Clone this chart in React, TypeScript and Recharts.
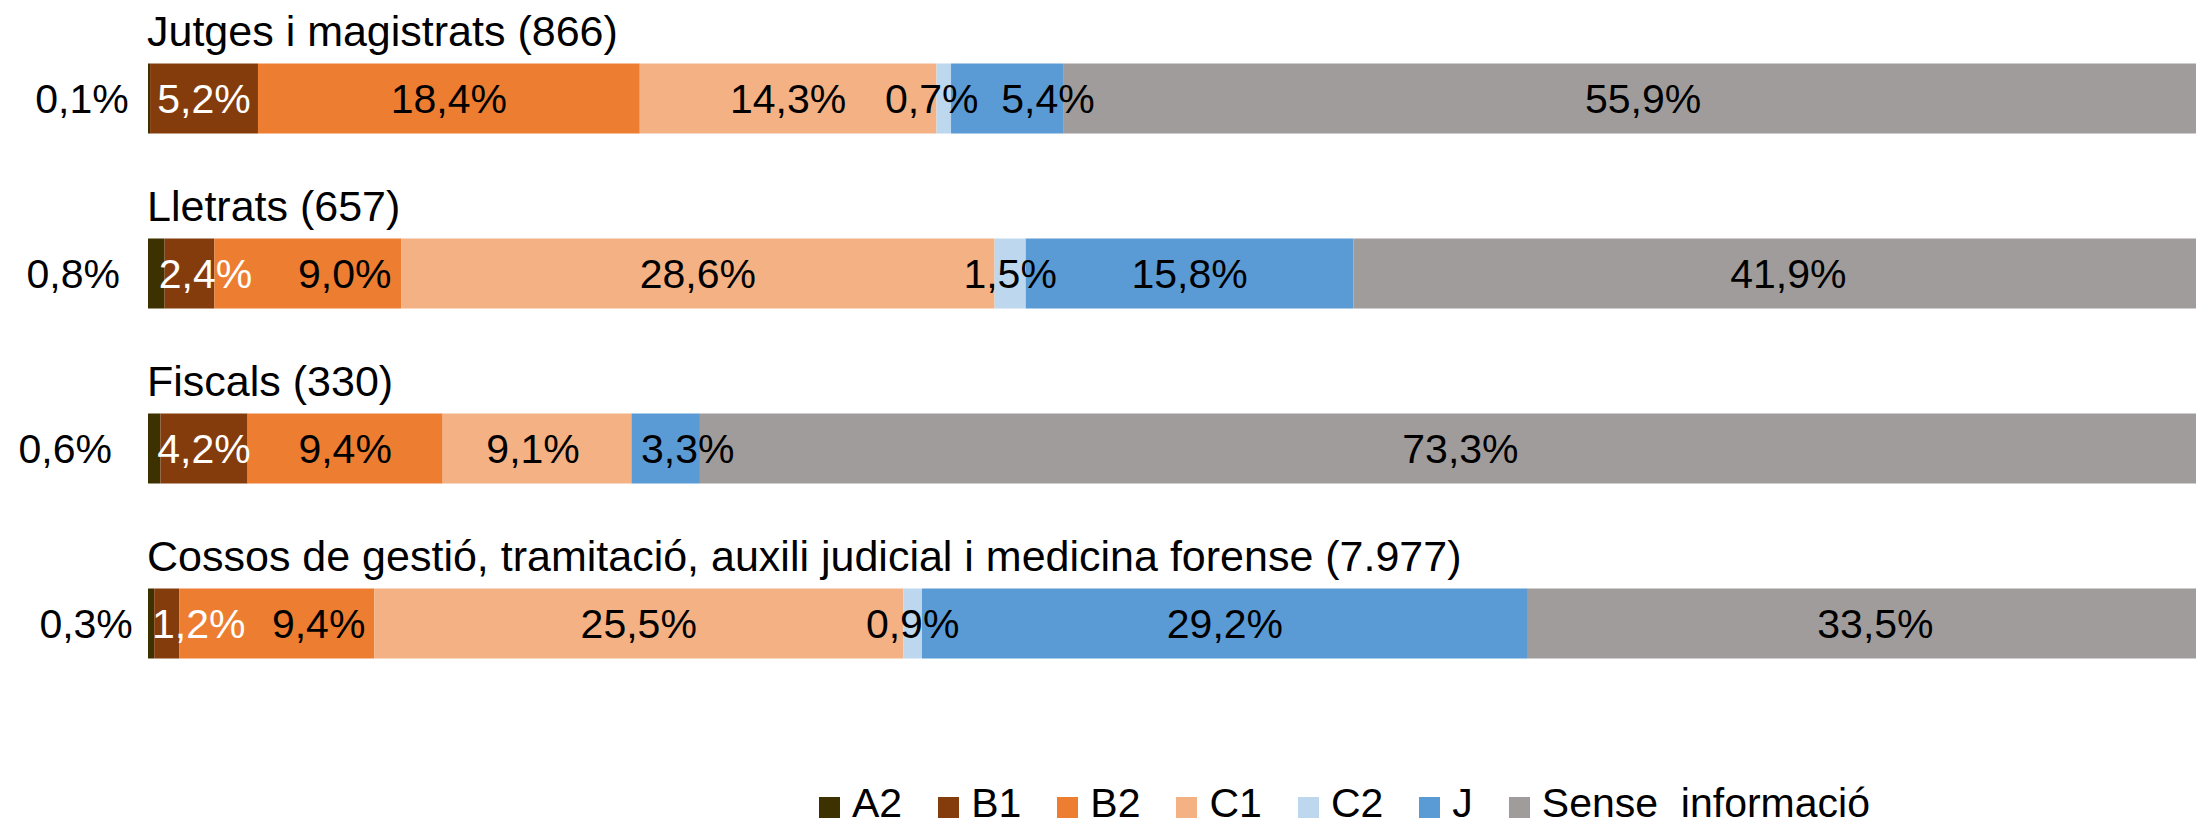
import { BarChart, Bar, XAxis, YAxis, LabelList } from "recharts";

const categories = [
  "Jutges i magistrats (866)",
  "Lletrats (657)",
  "Fiscals (330)",
  "Cossos de gestió, tramitació, auxili judicial i medicina forense (7.977)",
];

const seriesNames = ["A2", "B1", "B2", "C1", "C2", "J", "Sense  informació"];

const a2 = [0.1, 0.8, 0.6, 0.3];
const b1 = [5.2, 2.4, 4.2, 1.2];
const b2 = [18.4, 9.0, 9.4, 9.4];
const c1 = [14.3, 28.6, 9.1, 25.5];
const c2 = [0.7, 1.5, 0, 0.9];
const jj = [5.4, 15.8, 3.3, 29.2];
const sense = [55.9, 41.9, 73.3, 33.5];

const seriesValues = [a2, b1, b2, c1, c2, jj, sense];
const keys = ["a2", "b1", "b2", "c1", "c2", "j", "sense"];
const colors = ["#3D3100", "#843C0C", "#ED7D31", "#F4B183", "#BDD7EE", "#5B9BD5", "#A09C9B"];
const labelColors = ["#000", "#fff", "#000", "#000", "#000", "#000", "#000"];

// hand nudges of the data labels (px), per row and series, as in the original
const labelNudge = [
  [-67, 0, 0, 0, -12, 41, 0],
  [-83, 16, 37, 0, 0, 0, 0],
  [-89, 0, 0, -4, 0, 22, 0],
  [-65, 32, 42, 0, 0, 0, 0],
];

const data = categories.map((name, i) => {
  const row: Record<string, string | number> = { name };
  keys.forEach((k, s) => (row[k] = seriesValues[s][i]));
  return row;
});

const FONT = "'Liberation Sans', Arial, sans-serif";

const fmt = (v: number) => v.toFixed(1).replace(".", ",") + "%";

const box = (props: any) => {
  const vb = props.viewBox || {};
  return {
    x: Number(props.x ?? vb.x),
    y: Number(props.y ?? vb.y),
    w: Number(props.width ?? vb.width),
    h: Number(props.height ?? vb.height),
  };
};

// labels get the category name as value, so zero-width segments don't shift rows
function makeLabel(si: number) {
  return (props: any) => {
    const { x, y, w, h } = box(props);
    const row = categories.indexOf(props.value);
    if (row < 0) return null;
    const v = seriesValues[si][row];
    if (!v) return null;
    const cx = x + w / 2 + labelNudge[row][si];
    const cy = y + h / 2 + 14.5;
    return (
      <text x={cx} y={cy} textAnchor="middle" fill={labelColors[si]} fontSize={41} fontFamily={FONT}>
        {fmt(v)}
      </text>
    );
  };
}

// category title written above each bar
const TitleLabel = (props: any) => {
  const { x, y } = box(props);
  return (
    <text x={x - 1} y={y - 18} fontSize={43} fontFamily={FONT} fill="#000">
      {props.value}
    </text>
  );
};

export default function App() {
  return (
    <div style={{ margin: -8, width: 2204, height: 826, overflow: "hidden", position: "relative", background: "#fff" }}>
      <BarChart
        width={2300}
        height={826}
        data={data}
        layout="vertical"
        margin={{ top: 10.5, right: 77, bottom: 115.5, left: 148 }}
      >
        <XAxis type="number" domain={[0, 100]} hide />
        <YAxis type="category" dataKey="name" hide />
        {keys.map((k, si) => (
          <Bar key={k} dataKey={k} stackId="a" fill={colors[si]} barSize={70} isAnimationActive={false}>
            <LabelList dataKey="name" content={makeLabel(si)} />
            {si === 0 && <LabelList dataKey="name" content={TitleLabel} />}
          </Bar>
        ))}
      </BarChart>
      <div
        style={{
          position: "absolute",
          left: 819,
          top: 783,
          display: "flex",
          alignItems: "center",
          fontFamily: FONT,
          fontSize: 41,
          lineHeight: "40px",
          whiteSpace: "pre",
        }}
      >
        {seriesNames.map((n, si) => (
          <div key={n} style={{ display: "flex", alignItems: "center", marginRight: 36 }}>
            <span style={{ display: "inline-block", width: 21, height: 21, background: colors[si], marginRight: 12, marginTop: 8 }} />
            <span>{n}</span>
          </div>
        ))}
      </div>
    </div>
  );
}
